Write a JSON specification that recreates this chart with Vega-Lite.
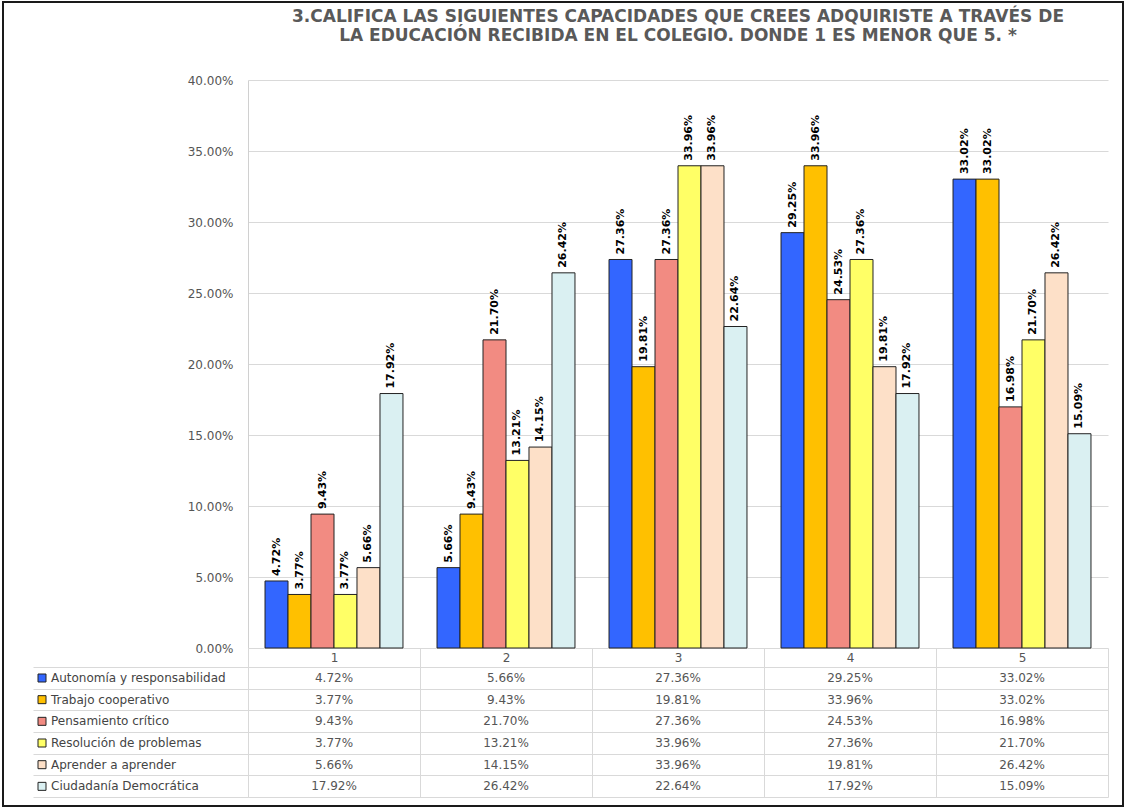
{
  "$schema": "https://vega.github.io/schema/vega-lite/v6.json",
  "padding": {"left": 2, "top": 1, "right": 2, "bottom": 2},
  "autosize": {"type": "pad"},
  "background": "white",
  "config": {"view": {"stroke": null}, "font": "DejaVu Sans", "legend": {"strokeWidth": 2}},
  "datasets": {
    "d": [
      {"cat": "1", "series": "Autonomía y responsabilidad", "value": 0.0472},
      {"cat": "1", "series": "Trabajo cooperativo", "value": 0.0377},
      {"cat": "1", "series": "Pensamiento crítico", "value": 0.0943},
      {"cat": "1", "series": "Resolución de problemas", "value": 0.0377},
      {"cat": "1", "series": "Aprender a aprender", "value": 0.0566},
      {"cat": "1", "series": "Ciudadanía Democrática", "value": 0.1792},
      {"cat": "2", "series": "Autonomía y responsabilidad", "value": 0.0566},
      {"cat": "2", "series": "Trabajo cooperativo", "value": 0.0943},
      {"cat": "2", "series": "Pensamiento crítico", "value": 0.2170},
      {"cat": "2", "series": "Resolución de problemas", "value": 0.1321},
      {"cat": "2", "series": "Aprender a aprender", "value": 0.1415},
      {"cat": "2", "series": "Ciudadanía Democrática", "value": 0.2642},
      {"cat": "3", "series": "Autonomía y responsabilidad", "value": 0.2736},
      {"cat": "3", "series": "Trabajo cooperativo", "value": 0.1981},
      {"cat": "3", "series": "Pensamiento crítico", "value": 0.2736},
      {"cat": "3", "series": "Resolución de problemas", "value": 0.3396},
      {"cat": "3", "series": "Aprender a aprender", "value": 0.3396},
      {"cat": "3", "series": "Ciudadanía Democrática", "value": 0.2264},
      {"cat": "4", "series": "Autonomía y responsabilidad", "value": 0.2925},
      {"cat": "4", "series": "Trabajo cooperativo", "value": 0.3396},
      {"cat": "4", "series": "Pensamiento crítico", "value": 0.2453},
      {"cat": "4", "series": "Resolución de problemas", "value": 0.2736},
      {"cat": "4", "series": "Aprender a aprender", "value": 0.1981},
      {"cat": "4", "series": "Ciudadanía Democrática", "value": 0.1792},
      {"cat": "5", "series": "Autonomía y responsabilidad", "value": 0.3302},
      {"cat": "5", "series": "Trabajo cooperativo", "value": 0.3302},
      {"cat": "5", "series": "Pensamiento crítico", "value": 0.1698},
      {"cat": "5", "series": "Resolución de problemas", "value": 0.2170},
      {"cat": "5", "series": "Aprender a aprender", "value": 0.2642},
      {"cat": "5", "series": "Ciudadanía Democrática", "value": 0.1509}
    ]
  },
  "data": {"name": "d"},
  "spacing": 19,
  "bounds": "flush",
  "resolve": {"scale": {"color": "independent"}, "legend": {"color": "independent"}},
  "vconcat": [
    {
      "width": 860,
      "height": 568,
      "title": {
        "text": ["3.CALIFICA LAS SIGUIENTES CAPACIDADES QUE CREES ADQUIRISTE A TRAVÉS DE", "LA EDUCACIÓN RECIBIDA EN EL COLEGIO. DONDE 1 ES MENOR QUE 5. *"],
        "font": "DejaVu Sans", "fontSize": 17, "fontWeight": "bold", "color": "#595959",
        "lineHeight": 19, "anchor": "middle", "frame": "group", "offset": 29
      },
      "encoding": {
        "x": {"field": "cat", "type": "nominal", "scale": {"type": "band", "paddingInner": 0, "paddingOuter": 0}, "axis": null},
        "xOffset": {"field": "series", "type": "nominal",
          "sort": ["Autonomía y responsabilidad", "Trabajo cooperativo", "Pensamiento crítico", "Resolución de problemas", "Aprender a aprender", "Ciudadanía Democrática"],
          "scale": {"paddingInner": 0, "paddingOuter": 0.74}},
        "y": {"field": "value", "type": "quantitative", "scale": {"domain": [0, 0.4], "nice": false},
          "axis": {"title": null, "values": [0, 0.05, 0.1, 0.15, 0.2, 0.25, 0.3, 0.35, 0.4], "format": ".2%",
            "labelFont": "DejaVu Sans", "labelFontSize": 12, "labelColor": "#555555", "labelPadding": 15,
            "ticks": false, "tickSize": 0, "grid": true, "gridColor": "#d9d9d9", "domainColor": "#d0d0d0"}}
      },
      "layer": [
        {
          "mark": {"type": "bar", "stroke": "#222222", "strokeWidth": 1},
          "encoding": {
            "color": {"field": "series", "type": "nominal",
              "scale": {"domain": ["Autonomía y responsabilidad", "Trabajo cooperativo", "Pensamiento crítico", "Resolución de problemas", "Aprender a aprender", "Ciudadanía Democrática"],
                "range": ["#3366ff", "#ffc000", "#f28b82", "#ffff66", "#fde0c8", "#daf0f2"]},
              "legend": {"orient": "none", "legendX": -212, "legendY": 592, "title": null, "symbolType": "square",
                "symbolSize": 64, "symbolStrokeColor": "#222222", "symbolStrokeWidth": 1, "symbolOpacity": 1,
                "labelFont": "DejaVu Sans", "labelFontSize": 12, "labelColor": "#444444", "labelOffset": 3,
                "rowPadding": 9.67, "padding": 0, "labelLimit": 300, "strokeColor": null}}
          }
        },
        {
          "mark": {"type": "text", "angle": 270, "align": "left", "baseline": "middle", "dx": 5,
            "font": "DejaVu Sans", "fontSize": 11, "fontWeight": "bold", "color": "#000000"},
          "encoding": {"text": {"field": "value", "type": "quantitative", "format": ".2%"}}
        }
      ]
    },
    {
      "width": 860,
      "height": 130,
      "mark": {"type": "text", "font": "DejaVu Sans", "fontSize": 12},
      "encoding": {
        "x": {"field": "cat", "type": "nominal", "scale": {"type": "band", "paddingInner": 0, "paddingOuter": 0},
          "axis": {"orient": "top", "title": null, "labelAngle": 0, "tickBand": "extent", "tickSize": 19,
            "tickColor": "#d9d9d9", "domain": false, "grid": true, "gridColor": "#d9d9d9",
            "labelPadding": -9.5, "labelBaseline": "middle", "labelFont": "DejaVu Sans", "labelFontSize": 12, "labelColor": "#555555"}},
        "y": {"field": "series", "type": "nominal",
          "sort": ["Autonomía y responsabilidad", "Trabajo cooperativo", "Pensamiento crítico", "Resolución de problemas", "Aprender a aprender", "Ciudadanía Democrática"],
          "scale": {"type": "band", "paddingInner": 0, "paddingOuter": 0},
          "axis": {"title": null, "labels": false, "tickBand": "extent", "tickSize": 215, "tickColor": "#d9d9d9",
            "grid": true, "gridColor": "#d9d9d9", "domainColor": "#d9d9d9"}},
        "text": {"field": "value", "type": "quantitative", "format": ".2%"},
        "color": {"field": "value", "type": "quantitative", "scale": {"range": ["#555555", "#555555"]},
          "legend": {"orient": "none", "direction": "horizontal", "legendX": -245, "legendY": -665,
            "title": null, "labelExpr": "''", "labelOpacity": 0, "labelFontSize": 1, "labelOffset": 0,
            "gradientLength": 1120, "gradientThickness": 803,
            "gradientOpacity": 0, "gradientStrokeWidth": 0, "padding": 0,
            "strokeColor": "#1a1a1a"}}
      }
    }
  ]
}
